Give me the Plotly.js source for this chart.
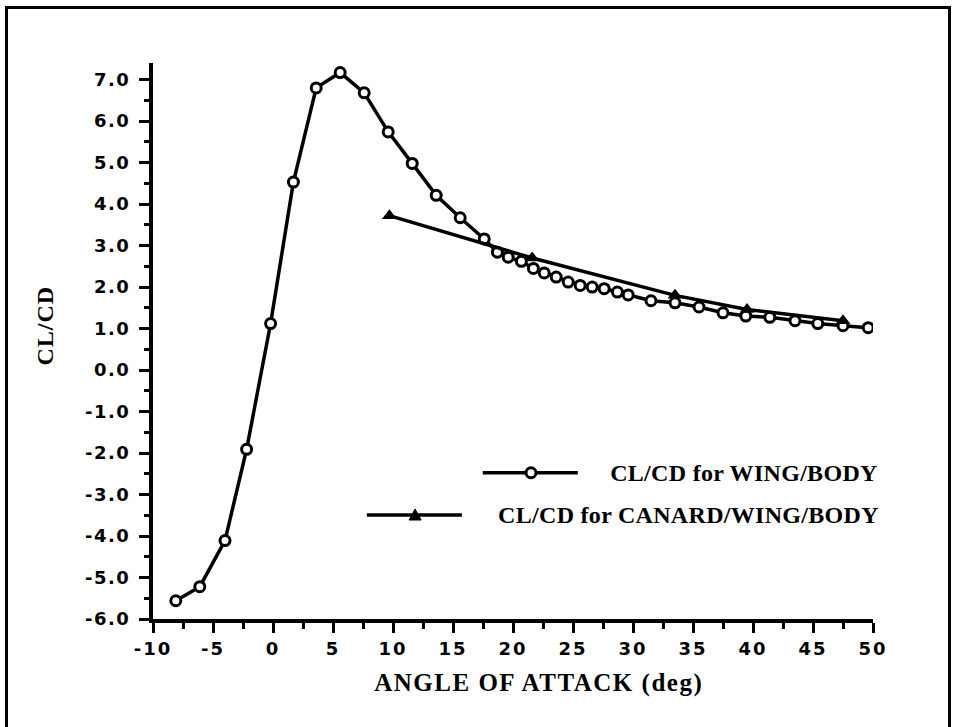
<!DOCTYPE html>
<html>
<head>
<meta charset="utf-8">
<script src="https://cdn.plot.ly/plotly-3.0.1.min.js"></script>
<style>
  html, body { margin: 0; padding: 0; background: #fff; }
  #frame { position: absolute; left: 0; top: 0; width: 954px; height: 727px; }
  #border { position: absolute; left: 5px; top: 6px; width: 940px; height: 730px;
            border-top: 3px solid #000; border-left: 3px solid #000; border-right: 3px solid #000; pointer-events: none; }
  #chart { position: absolute; left: 0; top: 0; width: 954px; height: 727px; }
</style>
</head>
<body>
<div id="frame">
  <div id="chart"></div>
  <div id="border"></div>
</div>
<script>
// ---- data ----
const wingBodyAlpha = [-8.1, -6.1, -4.0, -2.2, -0.2, 1.7, 3.6, 5.6, 7.6, 9.6, 11.6, 13.6, 15.6, 17.6,
  18.7, 19.6, 20.7, 21.7, 22.6, 23.6, 24.6, 25.6, 26.6, 27.6, 28.7, 29.6, 31.5, 33.5, 35.5, 37.5,
  39.4, 41.4, 43.5, 45.4, 47.5, 49.6];
const wingBodyCLCD = [-5.56, -5.22, -4.11, -1.91, 1.12, 4.53, 6.80, 7.17, 6.68, 5.74, 4.98, 4.21, 3.67, 3.16,
  2.84, 2.72, 2.62, 2.45, 2.34, 2.24, 2.12, 2.04, 2.00, 1.96, 1.88, 1.81, 1.67, 1.62, 1.52, 1.38,
  1.30, 1.27, 1.19, 1.12, 1.07, 1.02];
const canardAlpha = [9.7, 21.6, 33.5, 39.5, 47.5];
const canardCLCD = [3.72, 2.70, 1.80, 1.46, 1.19];

const xTickVals = [-10, -5, 0, 5, 10, 15, 20, 25, 30, 35, 40, 45, 50];
const xTickText = ['-10', '-5', '0', '5', '10', '15', '20', '25', '30', '35', '40', '45', '50'];
const yTickVals = [-6, -5, -4, -3, -2, -1, 0, 1, 2, 3, 4, 5, 6, 7];
const yTickText = ['-6.0', '-5.0', '-4.0', '-3.0', '-2.0', '-1.0', '0.0', '1.0', '2.0', '3.0', '4.0', '5.0', '6.0', '7.0'];

const xTitle = 'ANGLE OF ATTACK (deg)';
const yTitle = 'CL/CD';
const legendNames = ['CL/CD for WING/BODY', 'CL/CD for CANARD/WING/BODY'];

const tickFont = { family: 'DejaVu Sans, Arial, sans-serif', size: 18, color: '#000', weight: 'bold' };
const serifBold = 'Liberation Serif, Times New Roman, serif';

const traces = [
  {
    x: wingBodyAlpha, y: wingBodyCLCD, type: 'scatter', mode: 'lines+markers', name: legendNames[0],
    line: { color: '#000', width: 3.5 },
    marker: { symbol: 'circle', size: 10, color: '#fff', line: { color: '#000', width: 3 } },
    showlegend: false
  },
  {
    x: canardAlpha, y: canardCLCD, type: 'scatter', mode: 'lines+markers', name: legendNames[1],
    line: { color: '#000', width: 3.5 },
    marker: { symbol: 'triangle-up', size: 13, color: '#000' },
    showlegend: false
  }
];

// legend sample positions (paper coords)
const L1y = 0.263, L2y = 0.187;
const layout = {
  width: 954, height: 727,
  margin: { l: 153, r: 81, t: 63, b: 108 },
  paper_bgcolor: 'rgba(0,0,0,0)', plot_bgcolor: '#fff',
  showlegend: false,
  xaxis: {
    range: [-10, 50], tickmode: 'array', tickvals: xTickVals, ticktext: xTickText,
    showgrid: false, zeroline: false, showline: true, linecolor: '#000', linewidth: 4,
    ticks: 'outside', ticklen: 10, tickwidth: 3, tickcolor: '#000',
    minor: { dtick: 2.5, tick0: -10, ticks: 'outside', ticklen: 6, tickwidth: 3, tickcolor: '#000', showgrid: false },
    tickfont: tickFont
  },
  yaxis: {
    range: [-6, 7.4], tickmode: 'array', tickvals: yTickVals, ticktext: yTickText,
    showgrid: false, zeroline: false, showline: true, linecolor: '#000', linewidth: 4,
    ticks: 'outside', ticklen: 10, tickwidth: 3, tickcolor: '#000', ticklabelstandoff: 5,
    minor: { dtick: 0.5, tick0: -6, ticks: 'outside', ticklen: 5, tickwidth: 3, tickcolor: '#000', showgrid: false },
    tickfont: tickFont
  },
  shapes: [
    { type: 'line', xref: 'paper', yref: 'paper', x0: 0.458, x1: 0.590, y0: L1y, y1: L1y, line: { color: '#000', width: 3.5 } },
    { type: 'circle', xref: 'paper', yref: 'paper', xsizemode: 'pixel', ysizemode: 'pixel',
      xanchor: 0.525, yanchor: L1y, x0: -5, x1: 5, y0: -5, y1: 5, fillcolor: '#fff', line: { color: '#000', width: 3 } },
    { type: 'line', xref: 'paper', yref: 'paper', x0: 0.297, x1: 0.429, y0: L2y, y1: L2y, line: { color: '#000', width: 3.5 } },
    { type: 'path', xref: 'paper', yref: 'paper', xsizemode: 'pixel', ysizemode: 'pixel',
      xanchor: 0.364, yanchor: L2y, path: 'M -6 -5 L 6 -5 L 0 6 Z', fillcolor: '#000', line: { color: '#000', width: 1 } }
  ],
  annotations: [
    { xref: 'paper', yref: 'paper', x: 1.006, y: L1y, xanchor: 'right', yanchor: 'middle', showarrow: false,
      text: legendNames[0], font: { family: serifBold, size: 24, color: '#000', weight: 'bold' } },
    { xref: 'paper', yref: 'paper', x: 1.006, y: L2y, xanchor: 'right', yanchor: 'middle', showarrow: false,
      text: legendNames[1], font: { family: serifBold, size: 24, color: '#000', weight: 'bold' } },
    { xref: 'paper', yref: 'paper', x: 0.535, y: -0.115, xanchor: 'center', yanchor: 'middle', showarrow: false,
      text: xTitle, font: { family: serifBold, size: 25, color: '#000', weight: 'bold' }, name: 'xtitle' },
    { xref: 'paper', yref: 'paper', x: -0.15, y: 0.527, xanchor: 'center', yanchor: 'middle', showarrow: false,
      textangle: -90, text: yTitle, font: { family: serifBold, size: 24, color: '#000', weight: 'bold' }, name: 'ytitle' }
  ]
};

Plotly.newPlot('chart', traces, layout, { staticPlot: true, displayModeBar: false }).then(function (gd) {
  // widen letter spacing to mimic the wide lettering of the original
  gd.querySelectorAll('.xtick text').forEach(function (t) { t.style.letterSpacing = '2px'; });
  gd.querySelectorAll('.ytick text').forEach(function (t) { t.style.letterSpacing = '1.5px'; });
  const ann = gd.querySelectorAll('.annotation-text');
  ann.forEach(function (t, i) { t.style.letterSpacing = i === 2 ? '1.5px' : (i === 3 ? '1px' : '0.3px'); });
});
</script>
</body>
</html>
